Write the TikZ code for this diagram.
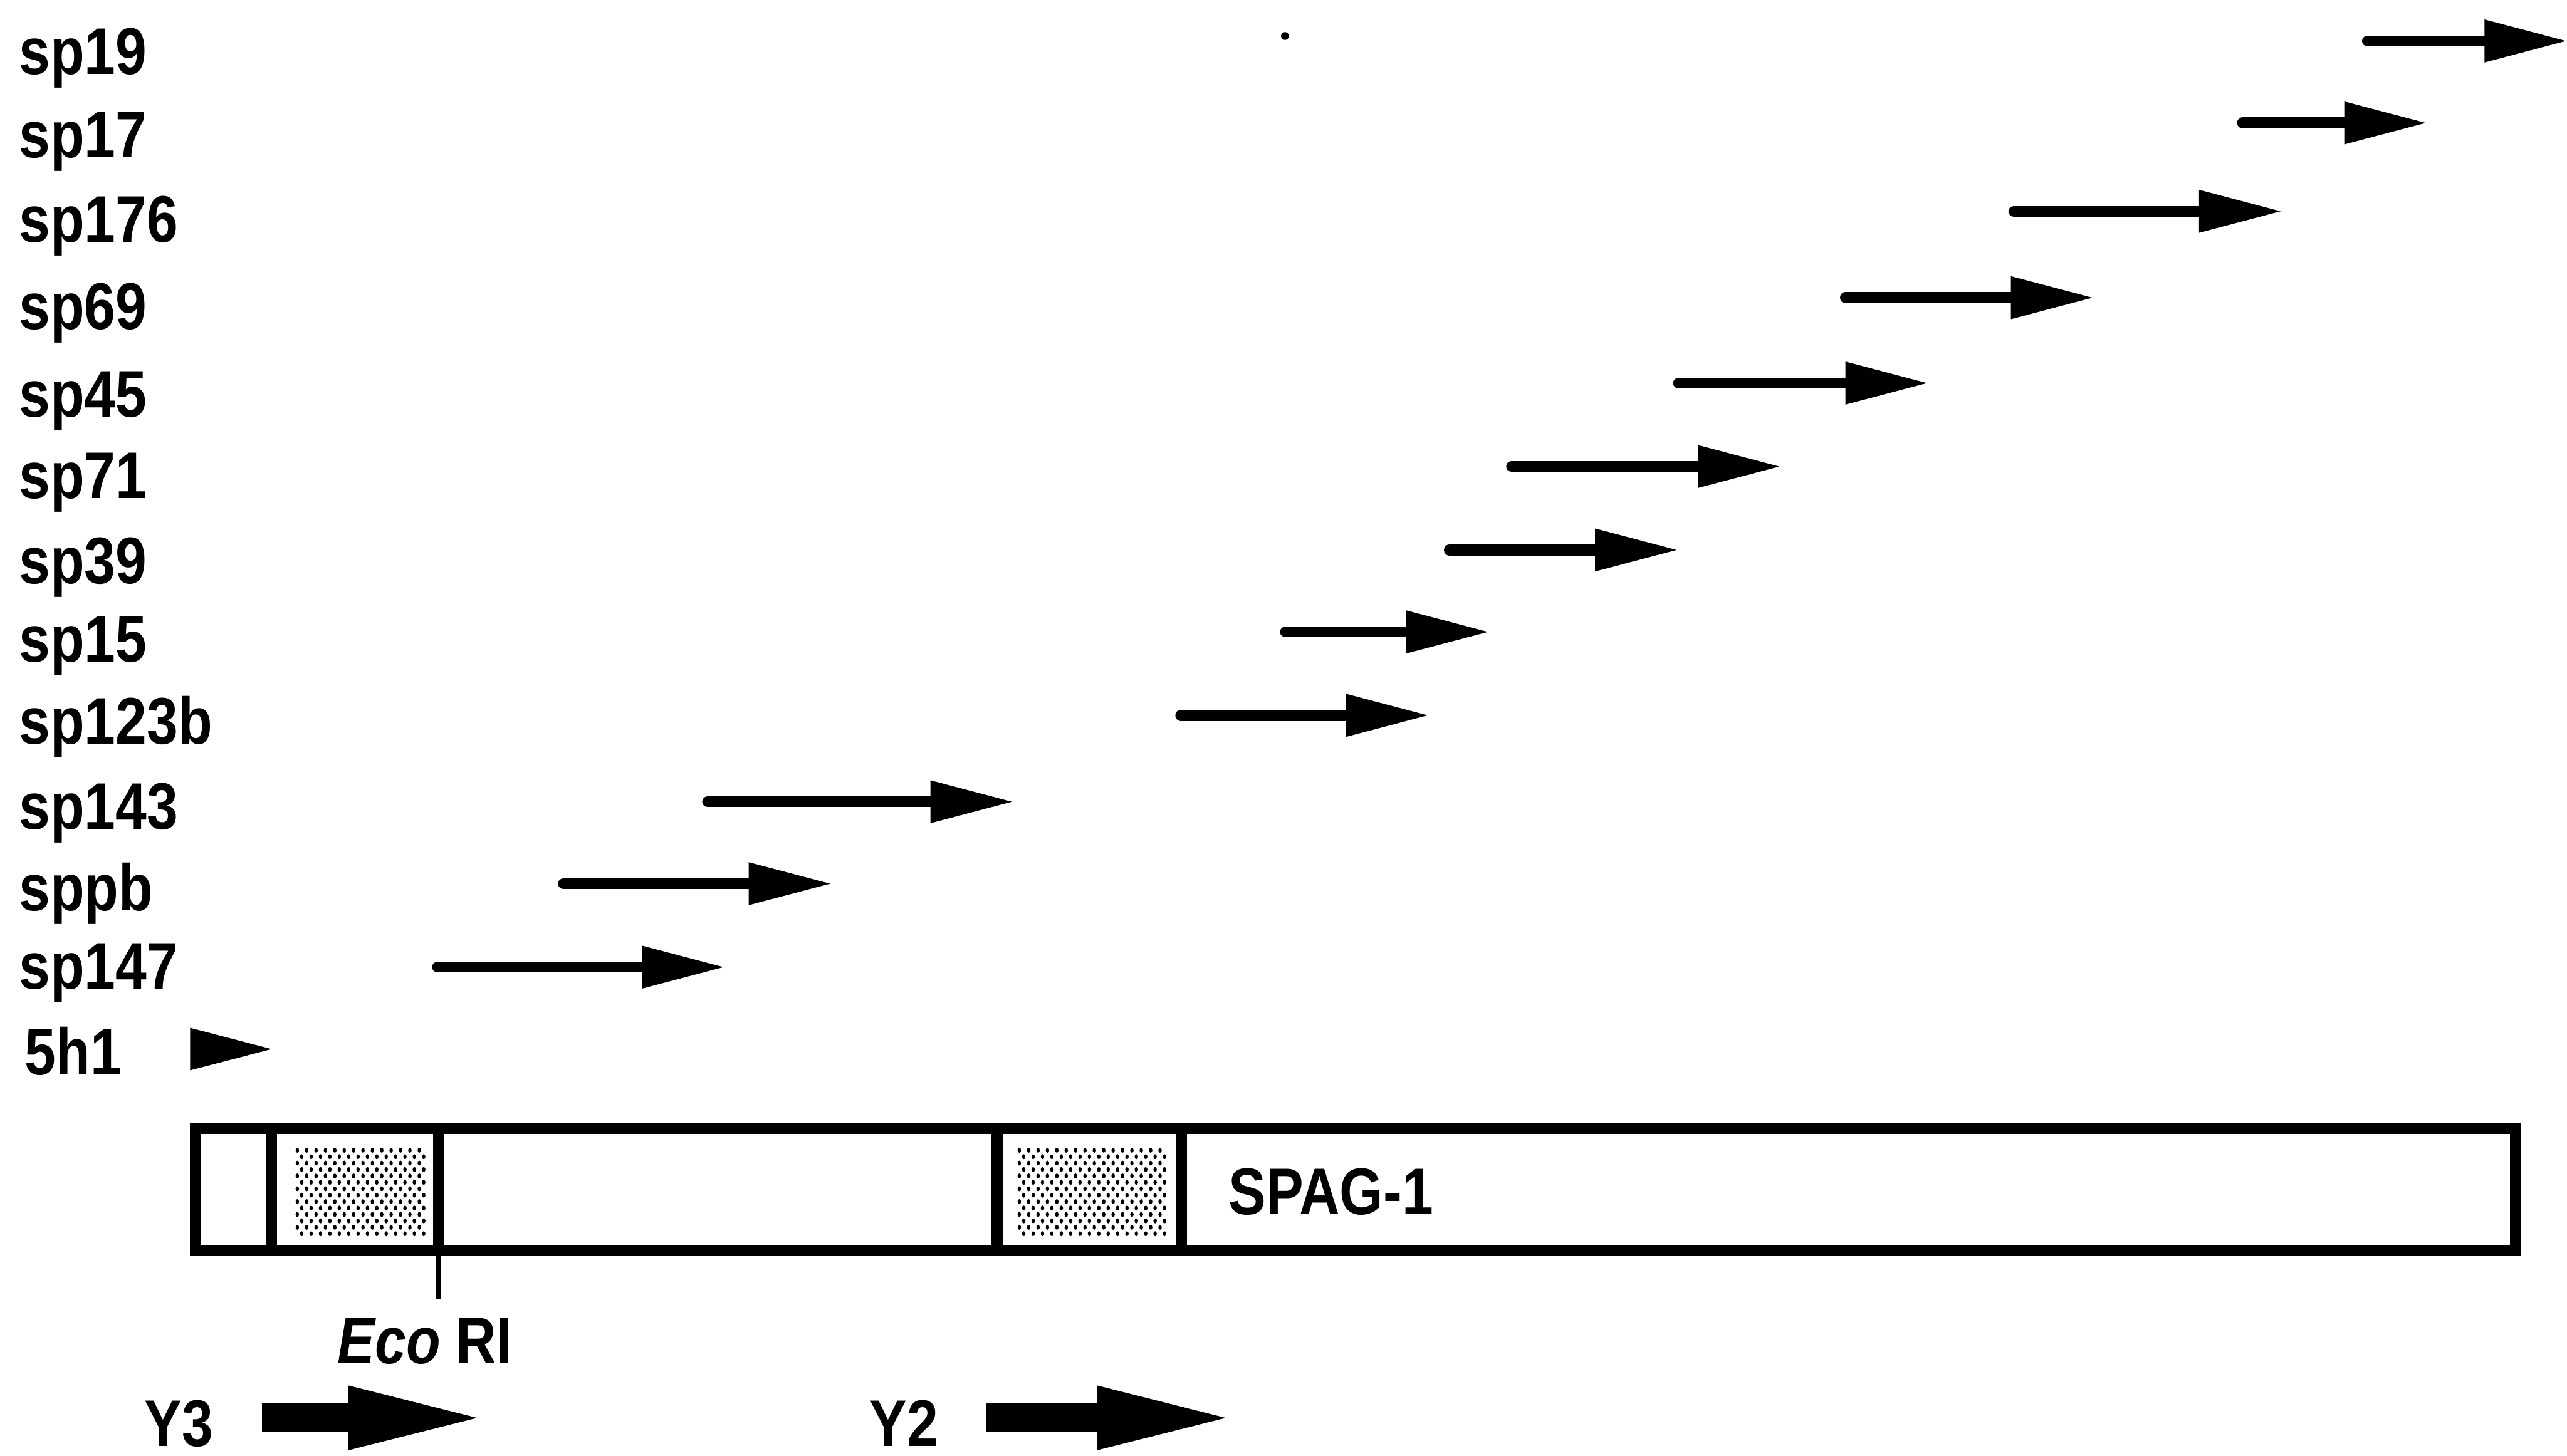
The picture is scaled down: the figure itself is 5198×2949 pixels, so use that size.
\documentclass[tikz,border=0pt]{standalone}
\usepackage{fontspec}
\setmainfont{Liberation Sans}[FakeStretch=0.85]
\usetikzlibrary{arrows.meta}
\begin{document}
\begin{tikzpicture}[x=0.01cm,y=-0.01cm,
  lbl/.style={anchor=base west,inner sep=0pt,font=\fontsize{38}{40}\selectfont\bfseries},
  sarrow/.style={line width=6.3pt,line cap=round,-{Triangle[length=1.65cm,width=0.87cm,line width=0pt]}},
  farrow/.style={line width=16.5pt,-{Triangle[length=2.6cm,width=1.31cm,line width=0pt]}},
  barline/.style={line width=6.3pt},
  dot/.style={fill=black}]
\useasboundingbox (0,0) rectangle (5198,2949);
% primer arrows
\foreach \n/\lab/\by/\xs/\xe/\ay in {
  1/sp19/150/4794/5196/83,
  2/sp17/319/4541/4912/249,
  3/sp176/491/4078/4618/428,
  4/sp69/667/3737/4237/603,
  5/sp45/844/3399/3902/776,
  6/sp71/1009/3061/3603/945,
  7/sp39/1182/2935/3395/1114,
  8/sp15/1341/2603/3013/1280,
  9/sp123b/1507/2391/2891/1449,
  10/sp143/1679/1433/2049/1624,
  11/sppb/1845/1141/1681/1790,
  12/sp147/2003/886/1465/1959}{
  \node[lbl] (l\n) at (38,\by) {\lab};
  \coordinate (s\n) at (\xs,\ay);
  \coordinate (e\n) at (\xe,\ay);
  \draw[sarrow] (s\n) -- (e\n);
}
\node[lbl] (l13) at (50,2177) {5h1};
\coordinate (h1) at (385,2082);
\coordinate (h2) at (550,2125);
\coordinate (h3) at (385,2168);
\fill (h1) -- (h2) -- (h3) -- cycle;
% speck
\fill (2602,73) circle (8);
% SPAG-1 bar
\coordinate (b1) at (395,2286);
\coordinate (b2) at (5093,2533);
\foreach \c/\x in {d1/550,d2/888,d3/2019,d4/2393}{
  \coordinate (\c t) at (\x,2286);
  \coordinate (\c b) at (\x,2533);
}
% stipple
\foreach \r in {0,...,13}{
  \foreach \c in {0,...,13}{
    \pgfmathsetmacro{\xx}{602+19*\c+9*mod(\r,2)}
    \pgfmathsetmacro{\yy}{2330+13*\r}
    \fill[dot] (\xx,\yy) ellipse (3.5 and 5);
  }
  \foreach \c in {0,...,15}{
    \pgfmathsetmacro{\xx}{2064+19*\c+9*mod(\r,2)}
    \pgfmathsetmacro{\yy}{2330+13*\r}
    \fill[dot] (\xx,\yy) ellipse (3.5 and 5);
  }
}
\draw[barline] (b1) rectangle (b2);
\foreach \c in {d1,d2,d3,d4}{\draw[barline] (\c t) -- (\c b);}
\node[lbl] (spag) at (2487,2460) {SPAG-1};
% Eco RI site
\coordinate (eco1) at (888,2533);
\coordinate (eco2) at (888,2632);
\draw[line width=2.8pt] (eco1) -- (eco2);
\node[lbl] (eco) at (683,2762) {\textit{Eco} RI};
% Y3 / Y2
\node[lbl] (y3) at (292,2930) {Y3};
\coordinate (y3s) at (530,2872);
\coordinate (y3e) at (966,2872);
\draw[farrow] (y3s) -- (y3e);
\node[lbl] (y2) at (1760,2930) {Y2};
\coordinate (y2s) at (1997,2872);
\coordinate (y2e) at (2482,2872);
\draw[farrow] (y2s) -- (y2e);
\end{tikzpicture}
\end{document}
